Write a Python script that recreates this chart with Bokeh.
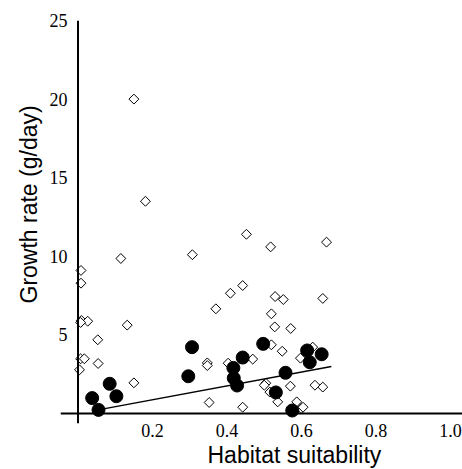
from bokeh.plotting import figure
from bokeh.models import FixedTicker, Title, Range1d, Span, NumeralTickFormatter
from bokeh.embed import file_html
from bokeh.resources import INLINE
import numpy as np

# Open diamonds (other sites)
open_x = [0.150, 0.181, 0.452, 0.307, 0.115, 0.008, 0.008, 0.442, 0.409, 0.370,
          0.009, 0.026, 0.007, 0.132, 0.053, 0.007, 0.017, 0.054, 0.347, 0.347,
          0.403, 0.469, 0.004, 0.150, 0.352, 0.442,
          0.517, 0.667, 0.529, 0.551, 0.657, 0.519, 0.528, 0.571, 0.519, 0.548,
          0.630, 0.597, 0.504, 0.500, 0.515, 0.570, 0.636, 0.657, 0.536, 0.587,
          0.599, 0.604]
open_y = [20.0, 13.5, 11.4, 10.1, 9.86, 9.10, 8.29, 8.14, 7.65, 6.66,
          5.92, 5.87, 5.79, 5.62, 4.69, 3.48, 3.48, 3.18, 3.22, 3.05,
          3.20, 3.46, 2.78, 1.95, 0.70, 0.40,
          10.6, 10.9, 7.44, 7.25, 7.32, 6.34, 5.51, 5.41, 4.37, 3.96,
          4.22, 3.52, 1.93, 1.80, 1.36, 1.74, 1.80, 1.68, 0.74, 0.74,
          0.32, 0.40]

# Filled circles
filled_x = [0.306, 0.442, 0.417, 0.296, 0.418, 0.427, 0.085, 0.103, 0.038, 0.055,
            0.497, 0.615, 0.654, 0.622, 0.557, 0.531, 0.575]
filled_y = [4.22, 3.56, 2.90, 2.37, 2.25, 1.78, 1.89, 1.10, 0.98, 0.23,
            4.43, 4.01, 3.77, 3.26, 2.59, 1.34, 0.19]

# Trend line end points
trend_x = [0.054, 0.68]
trend_y = [0.23, 2.99]

x_ticks = [0.2, 0.4, 0.6, 0.8, 1.0]
y_ticks = [5, 10, 15, 20, 25]

p = figure(width=462, height=469,
           x_range=Range1d(-0.047, 1.032), y_range=Range1d(-0.636, 25.0),
           output_backend="svg", toolbar_location=None,
           min_border_left=60, min_border_right=0,
           min_border_top=20, min_border_bottom=46)

p.xgrid.visible = False
p.ygrid.visible = False
p.outline_line_color = None

for ax in (p.xaxis, p.yaxis):
    ax.axis_line_color = None
    ax.major_tick_line_color = None
    ax.minor_tick_line_color = None
    ax.major_tick_out = 0
    ax.minor_tick_out = 0
    ax.major_label_text_font = "Liberation Serif"
    ax.major_label_text_font_size = "18px"
    ax.major_label_text_color = "black"

p.xaxis.ticker = FixedTicker(ticks=x_ticks)
p.yaxis.ticker = FixedTicker(ticks=y_ticks)
p.xaxis.formatter = NumeralTickFormatter(format="0.0")
p.xaxis.major_label_standoff = 0
p.yaxis.major_label_standoff = -7

p.add_layout(Span(location=0, dimension="width", line_color="black", line_width=2))
p.add_layout(Span(location=0, dimension="height", line_color="black", line_width=2))

p.scatter(open_x, open_y, marker="square", angle=np.pi / 4, size=7,
          fill_color="white", line_color="black", line_width=1)
p.line(trend_x, trend_y, line_color="black", line_width=1.5)
p.scatter(filled_x, filled_y, marker="circle", size=13,
          fill_color="black", line_color="black")

p.add_layout(Title(text="Habitat suitability", align="left", offset=147, standoff=0,
                   text_font="Liberation Sans", text_font_size="23px",
                   text_font_style="normal", text_color="black"), "below")
p.add_layout(Title(text="Growth rate (g/day)", align="left", offset=120, standoff=9,
                   text_font="Liberation Sans", text_font_size="23px",
                   text_font_style="normal", text_color="black"), "left")

open("out.html", "w").write(file_html(p, INLINE))
